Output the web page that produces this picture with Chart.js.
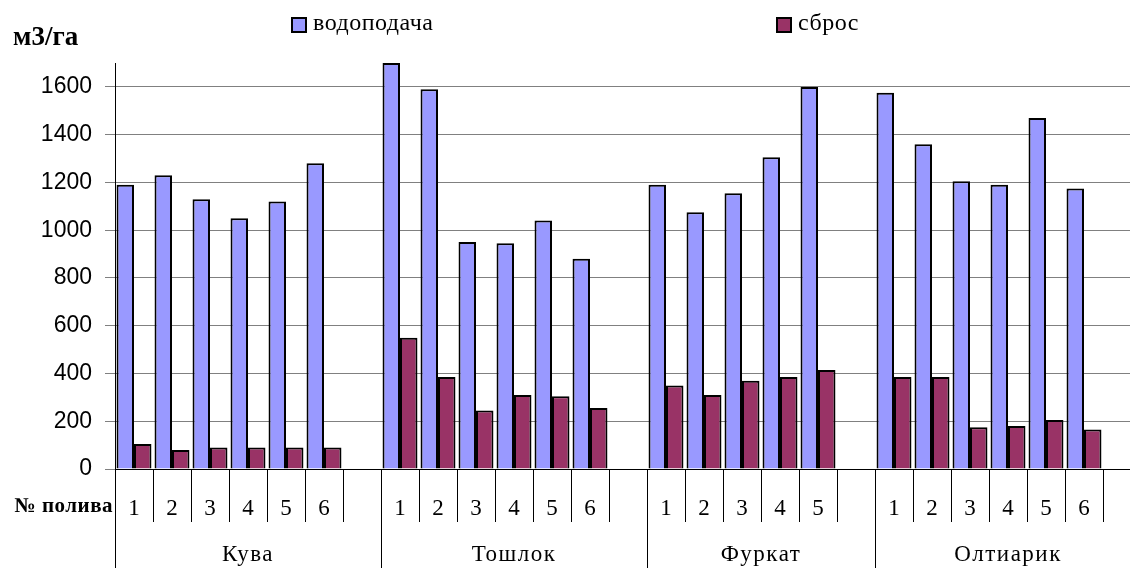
<!DOCTYPE html>
<html>
<head>
<meta charset="utf-8">
<script src="https://cdn.jsdelivr.net/npm/chart.js@4.4.0/dist/chart.umd.min.js"></script>
<style>
  html, body { margin: 0; padding: 0; background: #fff; }
  #chart { display: block; }
</style>
</head>
<body>
<canvas id="chart" width="1130" height="568"></canvas>
<script>
// groups of irrigations, each followed by one empty slot
const groups = ['Кува', 'Тошлок', 'Фуркат', 'Олтиарик'];
const groupSizes = [7, 7, 6, 7];

const irrigations = [
  '1', '2', '3', '4', '5', '6', '',
  '1', '2', '3', '4', '5', '6', '',
  '1', '2', '3', '4', '5', '',
  '1', '2', '3', '4', '5', '6', ''
];

// водоподача, м3/га
const supply = [
  1190, 1230, 1130, 1050, 1120, 1280, null,
  1700, 1590, 950, 945, 1040, 880, null,
  1190, 1075, 1155, 1305, 1600, null,
  1575, 1360, 1205, 1190, 1470, 1175, null
];

// сброс, м3/га
const discharge = [
  105, 80, 90, 90, 90, 90, null,
  550, 385, 245, 310, 305, 255, null,
  350, 310, 370, 385, 415, null,
  385, 385, 175, 180, 205, 165, null
];

const yTickValues = [0, 200, 400, 600, 800, 1000, 1200, 1400, 1600];
const yMax = 1700;

const serif = '"Liberation Serif", "Times New Roman", serif';
const sans = '"Liberation Sans", Arial, sans-serif';

// the original plot runs a little past the right edge of the picture
const overflowPlugin = {
  id: 'overflow',
  afterLayout(chart) {
    const xs = chart.scales.x;
    xs.right += 11;
    xs.width += 11;
    xs.configure();
  }
};

const decorPlugin = {
  id: 'decor',
  afterDraw(chart) {
    const ctx = chart.ctx;
    const x = chart.scales.x;
    const area = chart.chartArea;
    const slot = x.getPixelForValue(1) - x.getPixelForValue(0);

    // group start indices
    const starts = [];
    let acc = 0;
    groupSizes.forEach(n => { starts.push(acc); acc += n; });

    ctx.save();
    ctx.strokeStyle = '#000';
    ctx.lineWidth = 1;
    ctx.beginPath();
    for (let i = 0; i < irrigations.length; i++) {
      const bx = Math.round(x.getPixelForValue(i) - slot / 2) + 0.5;
      const bottom = starts.includes(i) ? chart.height : area.bottom + 53;
      ctx.moveTo(bx, area.bottom);
      ctx.lineTo(bx, bottom);
    }
    ctx.stroke();

    // group names
    ctx.fillStyle = '#000';
    ctx.font = '23px ' + serif;
    ctx.letterSpacing = '1.5px';
    ctx.textAlign = 'center';
    ctx.textBaseline = 'middle';
    groups.forEach((g, k) => {
      const first = starts[k];
      const last = first + groupSizes[k] - 1;
      const left = x.getPixelForValue(first) - slot / 2;
      const right = x.getPixelForValue(last) + slot / 2;
      ctx.fillText(g, (left + right) / 2, area.bottom + 86);
    });

    // axis captions
    ctx.letterSpacing = '0px';
    ctx.font = 'bold 27px ' + serif;
    ctx.textAlign = 'left';
    ctx.fillText('м3/га', 13, 38);
    ctx.font = 'bold 21px ' + serif;
    ctx.letterSpacing = '0.5px';
    ctx.textAlign = 'right';
    ctx.fillText('№ полива', 113, 507);

    // legend
    const legendX = [292, 777];
    ctx.font = '24px ' + serif;
    ctx.letterSpacing = '0.5px';
    ctx.textAlign = 'left';
    chart.data.datasets.forEach((ds, k) => {
      const lx = legendX[k];
      ctx.fillStyle = ds.backgroundColor;
      ctx.fillRect(lx, 18, 14, 14);
      ctx.lineWidth = 2;
      ctx.strokeStyle = '#000';
      ctx.strokeRect(lx, 18, 14, 14);
      ctx.fillStyle = '#000';
      ctx.fillText(ds.label, lx + 21, 24);
    });
    ctx.restore();
  }
};

new Chart(document.getElementById('chart'), {
  type: 'bar',
  data: {
    labels: irrigations,
    datasets: [
      {
        label: 'водоподача',
        data: supply,
        backgroundColor: '#9999FF',
        borderColor: '#000',
        borderWidth: 2,
        categoryPercentage: 0.92,
        barPercentage: 1
      },
      {
        label: 'сброс',
        data: discharge,
        backgroundColor: '#993366',
        borderColor: '#000',
        borderWidth: 2,
        categoryPercentage: 0.92,
        barPercentage: 1
      }
    ]
  },
  options: {
    responsive: false,
    animation: false,
    devicePixelRatio: 1,
    layout: { padding: { top: 63, right: 0, left: 0, bottom: 0 } },
    plugins: {
      legend: { display: false },
      tooltip: { enabled: false }
    },
    scales: {
      x: {
        grid: { display: false },
        border: { display: true, color: '#000', width: 1 },
        ticks: {
          color: '#000',
          font: { family: serif, size: 23 },
          padding: 18,
          maxRotation: 0,
          autoSkip: false
        },
        afterFit(scale) { scale.height = 99; }
      },
      y: {
        min: 0,
        max: yMax,
        afterBuildTicks(axis) {
          axis.ticks = yTickValues.map(v => ({ value: v }));
        },
        grid: { color: '#808080', lineWidth: 1, tickLength: 10 },
        border: { display: true, color: '#000', width: 1 },
        ticks: {
          color: '#000',
          font: { family: sans, size: 23 },
          padding: 13,
          callback: v => String(v)
        },
        afterFit(scale) { scale.width = 115; }
      }
    }
  },
  plugins: [overflowPlugin, decorPlugin]
});
</script>
</body>
</html>
